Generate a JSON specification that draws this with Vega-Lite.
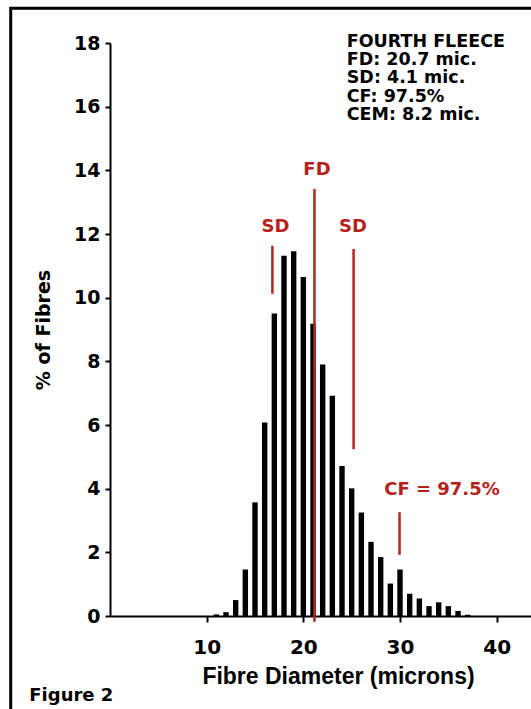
{
  "$schema": "https://vega.github.io/schema/vega-lite/v6.json",
  "width": 421,
  "height": 573,
  "autosize": {"type": "none"},
  "padding": {"left": 110, "top": 43, "right": 0, "bottom": 93},
  "background": "white",
  "config": {"view": {"stroke": null}, "font": "DejaVu Sans"},
  "datasets": {
    "bars": [
      {"d": 11, "pct": 0.05}, {"d": 12, "pct": 0.12}, {"d": 13, "pct": 0.5}, {"d": 14, "pct": 1.46},
      {"d": 15, "pct": 3.57}, {"d": 16, "pct": 6.08}, {"d": 17, "pct": 9.5}, {"d": 18, "pct": 11.32},
      {"d": 19, "pct": 11.46}, {"d": 20, "pct": 10.65}, {"d": 21, "pct": 9.18}, {"d": 22, "pct": 7.9},
      {"d": 23, "pct": 6.92}, {"d": 24, "pct": 4.71}, {"d": 25, "pct": 4.01}, {"d": 26, "pct": 3.25},
      {"d": 27, "pct": 2.33}, {"d": 28, "pct": 1.85}, {"d": 29, "pct": 1.02}, {"d": 30, "pct": 1.46},
      {"d": 31, "pct": 0.7}, {"d": 32, "pct": 0.55}, {"d": 33, "pct": 0.31}, {"d": 34, "pct": 0.43},
      {"d": 35, "pct": 0.31}, {"d": 36, "pct": 0.16}, {"d": 37, "pct": 0.04}
    ],
    "refs": [
      {"name": "FD", "x": 21.15, "y": -0.18, "y2": 13.41},
      {"name": "SD low", "x": 16.8, "y": 10.12, "y2": 11.63},
      {"name": "SD high", "x": 25.2, "y": 5.24, "y2": 11.53},
      {"name": "CF", "x": 29.95, "y": 1.92, "y2": 3.26}
    ],
    "redLabels": [
      {"text": "FD", "x": 21.41, "y": 13.86},
      {"text": "SD", "x": 17.12, "y": 12.05},
      {"text": "SD", "x": 25.14, "y": 12.05},
      {"text": "CF = 97.5%", "x": 34.34, "y": 3.8}
    ],
    "stats": [
      {"text": "FOURTH FLEECE", "x": 24.49, "y": 17.89},
      {"text": "FD: 20.7 mic.", "x": 24.49, "y": 17.32},
      {"text": "SD: 4.1 mic.", "x": 24.49, "y": 16.74},
      {"text": "CF: 97.5%", "x": 24.49, "y": 16.16},
      {"text": "CEM: 8.2 mic.", "x": 24.49, "y": 15.59}
    ],
    "caption": [{"text": "Figure 2", "x": -8.35, "y": -2.66}]
  },
  "layer": [
    {
      "data": {"values": [{}]},
      "mark": {"type": "rect", "filled": false, "stroke": "black", "strokeWidth": 3},
      "encoding": {
        "x": {"datum": -10.27, "type": "quantitative", "scale": {"domain": [0, 43.55], "nice": false, "padding": 0}},
        "x2": {"datum": 50},
        "y": {"datum": 19.09, "type": "quantitative", "scale": {"domain": [0, 18], "nice": false}},
        "y2": {"datum": -5}
      }
    },
    {
      "data": {"name": "bars"},
      "mark": {"type": "bar", "size": 5.4, "color": "black"},
      "encoding": {
        "x": {
          "field": "d", "type": "quantitative",
          "scale": {"domain": [0, 43.55], "nice": false, "padding": 0},
          "axis": {
            "values": [10, 20, 30, 40],
            "title": "Fibre Diameter (microns)",
            "titleFont": "Liberation Sans", "titleFontSize": 23, "titleFontWeight": "bold", "titleColor": "black",
            "titleX": 228, "titleY": 67, "titleBaseline": "alphabetic", "titleAlign": "center",
            "labelFont": "DejaVu Sans", "labelFontSize": 20, "labelFontWeight": "bold", "labelColor": "black",
            "labelPadding": 15, "labelFlush": false,
            "tickSize": 6, "tickWidth": 2, "tickColor": "black",
            "domainColor": "black", "domainWidth": 2, "grid": false
          }
        },
        "y": {
          "field": "pct", "type": "quantitative",
          "scale": {"domain": [0, 18], "nice": false},
          "axis": {
            "values": [0, 2, 4, 6, 8, 10, 12, 14, 16, 18],
            "title": "% of Fibres",
            "titleFont": "DejaVu Sans", "titleFontSize": 19, "titleFontWeight": "bold", "titleColor": "black",
            "titleX": -61, "titleBaseline": "alphabetic", "titleAngle": 270,
            "labelFont": "DejaVu Sans", "labelFontSize": 19, "labelFontWeight": "bold", "labelColor": "black",
            "labelPadding": 5,
            "tickSize": 5, "tickWidth": 2, "tickColor": "black",
            "domainColor": "black", "domainWidth": 2, "grid": false
          }
        }
      }
    },
    {
      "data": {"name": "refs"},
      "mark": {"type": "rule", "color": "#b0281f", "strokeWidth": 2.5},
      "encoding": {
        "x": {"field": "x", "type": "quantitative", "scale": {"domain": [0, 43.55], "nice": false, "padding": 0}},
        "y": {"field": "y", "type": "quantitative", "scale": {"domain": [0, 18], "nice": false}},
        "y2": {"field": "y2"}
      }
    },
    {
      "data": {"name": "redLabels"},
      "mark": {"type": "text", "font": "DejaVu Sans", "fontSize": 18, "fontWeight": "bold", "color": "#b5221b", "align": "center", "baseline": "alphabetic"},
      "encoding": {
        "x": {"field": "x", "type": "quantitative", "scale": {"domain": [0, 43.55], "nice": false, "padding": 0}},
        "y": {"field": "y", "type": "quantitative", "scale": {"domain": [0, 18], "nice": false}},
        "text": {"field": "text"}
      }
    },
    {
      "data": {"name": "stats"},
      "mark": {"type": "text", "font": "DejaVu Sans", "fontSize": 17.5, "fontWeight": "bold", "color": "black", "align": "left", "baseline": "alphabetic"},
      "encoding": {
        "x": {"field": "x", "type": "quantitative", "scale": {"domain": [0, 43.55], "nice": false, "padding": 0}},
        "y": {"field": "y", "type": "quantitative", "scale": {"domain": [0, 18], "nice": false}},
        "text": {"field": "text"}
      }
    },
    {
      "data": {"name": "caption"},
      "mark": {"type": "text", "font": "DejaVu Sans", "fontSize": 18, "fontWeight": "bold", "color": "black", "align": "left", "baseline": "alphabetic"},
      "encoding": {
        "x": {"field": "x", "type": "quantitative", "scale": {"domain": [0, 43.55], "nice": false, "padding": 0}},
        "y": {"field": "y", "type": "quantitative", "scale": {"domain": [0, 18], "nice": false}},
        "text": {"field": "text"}
      }
    }
  ]
}
